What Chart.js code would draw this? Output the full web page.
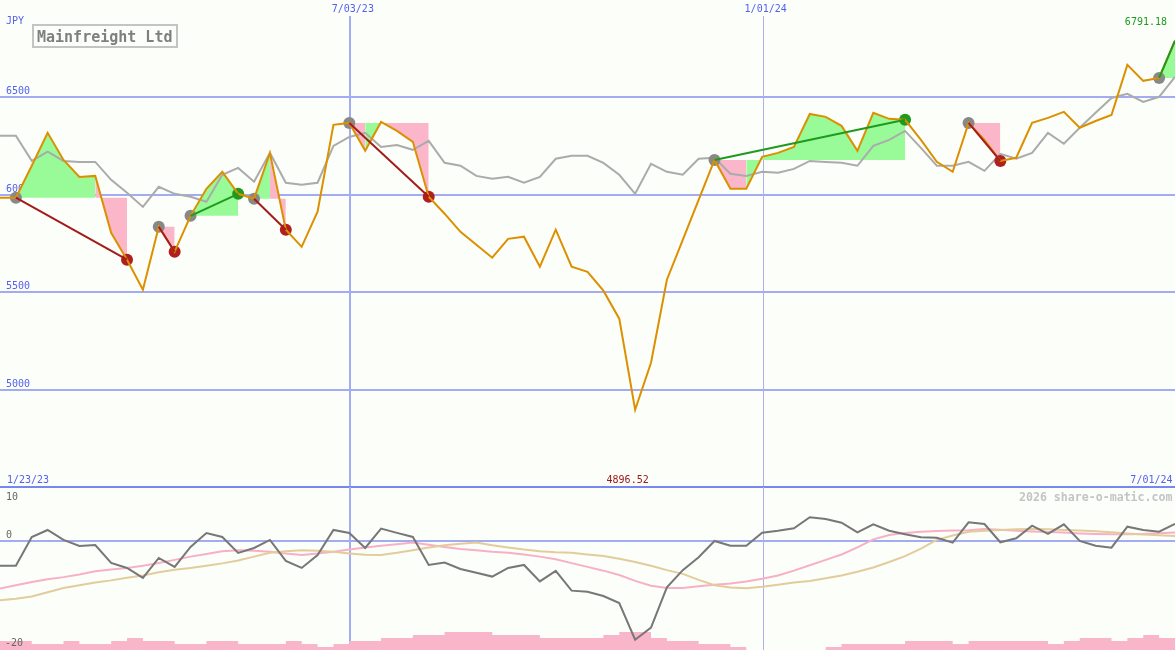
<!DOCTYPE html>
<html>
<head>
<meta charset="utf-8">
<title>Mainfreight Ltd</title>
<script src="https://cdn.jsdelivr.net/npm/chart.js@4.4.1/dist/chart.umd.min.js"></script>
<style>
  html, body { margin:0; padding:0; background:#fcfefa; overflow:hidden; }
  #wrap { width:1175px; height:650px; }
  canvas { display:block; }
</style>
</head>
<body>
<div id="wrap">
  <canvas id="priceChart" width="1175" height="487"></canvas>
  <canvas id="oscChart" width="1175" height="163"></canvas>
</div>
<script>
// ---------------- data (weekly points, index 0..74) ----------------
const title = 'Mainfreight Ltd';
const currency = 'JPY';
const watermark = '2026 share-o-matic.com';

const dateLabels = ['1/23/23', '7/03/23', '1/01/24', '7/01/24'];
const dateIndex  = [0, 22, 48, 74];

const priceTicks = [5000, 5500, 6000, 6500];
const oscTicks   = [10, 0, -20];

const price = [
  5985, 5985, 6149, 6318, 6179, 6092, 6097, 5805, 5667, 5513,
  5836, 5708, 5892, 6031, 6118, 6005, 5980, 6215, 5821, 5733,
  5913, 6359, 6369, 6226, 6374, 6328, 6272, 5990, 5903, 5810,
  5744, 5677, 5774, 5785, 5631, 5821, 5631, 5605, 5508, 5364,
  4896.52, 5138, 5564, 5769, 5974, 6179, 6031, 6031, 6195, 6215,
  6246, 6415, 6400, 6354, 6226, 6421, 6390, 6385, 6282, 6169,
  6118, 6369, 6282, 6174, 6190, 6369, 6395, 6426, 6344, 6379,
  6410, 6667, 6585, 6600, 6791.18
];

const average = [
  6303, 6303, 6174, 6221, 6174, 6169, 6169, 6077, 6010, 5938,
  6041, 6005, 5990, 5964, 6103, 6138, 6067, 6215, 6062, 6051,
  6062, 6251, 6297, 6318, 6246, 6256, 6231, 6277, 6164, 6149,
  6097, 6082, 6092, 6062, 6092, 6185, 6200, 6200, 6164, 6103,
  6005, 6159, 6118, 6103, 6185, 6190, 6108, 6097, 6118, 6113,
  6133, 6174, 6169, 6164, 6149, 6251, 6282, 6328, 6241, 6149,
  6149, 6169, 6123, 6210, 6185, 6215, 6318, 6262, 6344, 6421,
  6497, 6518, 6477, 6503, 6605
];

const tradeEntry  = [1, 10, 12, 16, 22, 45, 61, 73];
const tradeExit   = [8, 11, 15, 18, 27, 57, 63, 74];
const tradeClosed = [true, true, true, true, true, true, true, false];

const momentum = [
  -4.57, -4.57, 0.74, 2.04, 0.19, -0.93, -0.74, -4.07, -5.0, -6.85,
  -3.15, -4.8, -1.1, 1.48, 0.74, -2.2, -1.3, 0.19, -3.7, -5.0,
  -2.6, 2.04, 1.48, -1.3, 2.3, 1.5, 0.74, -4.44, -4.0, -5.2,
  -5.9, -6.6, -5.0, -4.44, -7.5, -5.55, -9.2, -9.4, -10.2, -11.5,
  -18.3, -16.05, -8.6, -5.4, -3.0, 0.0, -0.87, -0.87, 1.54, 1.9,
  2.35, 4.39, 4.07, 3.39, 1.61, 3.09, 1.9, 1.24, 0.69, 0.61,
  -0.31, 3.46, 3.15, -0.24, 0.5, 2.83, 1.3, 3.09, 0.0, -0.87,
  -1.24, 2.65, 2.04, 1.72, 3.15
];

const signalFast = [
  -8.8, -8.2, -7.6, -7.1, -6.7, -6.2, -5.6, -5.3, -5.0, -4.6,
  -4.1, -3.5, -2.9, -2.4, -1.9, -1.7, -1.8, -2.0, -2.3, -2.6,
  -2.3, -2.0, -1.6, -1.2, -0.9, -0.6, -0.3, -0.7, -1.1, -1.5,
  -1.7, -2.0, -2.2, -2.5, -2.9, -3.4, -4.1, -4.8, -5.5, -6.3,
  -7.4, -8.3, -8.7, -8.7, -8.4, -8.1, -7.9, -7.5, -7.0, -6.4,
  -5.5, -4.5, -3.5, -2.5, -1.2, 0.3, 1.1, 1.5, 1.7, 1.85,
  1.95, 2.0, 2.2, 2.1, 1.9, 1.75, 1.65, 1.55, 1.4, 1.3,
  1.25, 1.25, 1.3, 1.45, 1.55
];

const signalSlow = [
  -11.0, -10.7, -10.3, -9.5, -8.7, -8.2, -7.7, -7.3, -6.8, -6.4,
  -5.8, -5.35, -5.0, -4.6, -4.15, -3.6, -2.9, -2.2, -1.9, -1.7,
  -1.8, -2.0, -2.3, -2.55, -2.6, -2.2, -1.7, -1.2, -0.8, -0.5,
  -0.3, -0.8, -1.2, -1.6, -1.9, -2.1, -2.2, -2.5, -2.8, -3.3,
  -3.9, -4.6, -5.4, -6.1, -7.2, -8.2, -8.6, -8.75, -8.5, -8.1,
  -7.7, -7.4, -6.9, -6.4, -5.7, -4.9, -3.9, -2.8, -1.4, 0.2,
  1.0, 1.7, 1.9, 2.05, 2.15, 2.2, 2.15, 2.05, 1.95, 1.8,
  1.6, 1.4, 1.2, 1.05, 0.9
];

const volume = [
  3, 3, 2, 2, 3, 2, 2, 3, 4, 3,
  3, 2, 2, 3, 3, 2, 2, 2, 3, 2,
  1, 2, 3, 3, 4, 4, 5, 5, 6, 6,
  6, 5, 5, 5, 4, 4, 4, 4, 5, 6,
  6, 4, 3, 3, 2, 2, 1, 0, 0, 0,
  0, 0, 1, 2, 2, 2, 2, 3, 3, 3,
  2, 3, 3, 3, 3, 3, 2, 3, 4, 4,
  3, 4, 5, 4, 4
];

// ---------------- styling ----------------
const COL = {
  grid: '#a3acf3', sep: '#7886f0', thinV: '#aab1ec', blue: '#5461ee',
  orange: '#dc9000', avg: '#ababab', up: '#98fb98', down: '#fbb6c9',
  loss: '#a31c1c', lossDot: '#b01f1f', win: '#1f9a1f', entryDot: '#888888',
  mom: '#777777', fast: '#f7b0c6', slow: '#e3cc9c', vol: '#f9b5c9',
  minTxt: '#a01818', maxTxt: '#1f9a1f', oscTxt: '#666666', mark: '#c4c4c4'
};
const FONT = '10px "DejaVu Sans Mono"';
const markerStyle = [null, {w: 2, c: COL.grid, round: Math.round}, {w: 1, c: COL.thinV, round: Math.ceil}, null];

const pts = arr => arr.map((v, i) => ({x: i, y: v}));

function drawMarkers(ctx, xs, y0, y1) {
  dateIndex.forEach((idx, k) => {
    const st = markerStyle[k];
    if (!st) return;
    ctx.fillStyle = st.c;
    ctx.fillRect(st.round(xs.getPixelForValue(idx)), y0, st.w, y1 - y0);
  });
}

// ---------------- price chart ----------------
const priceDatasets = [];

// trade fills (between price and entry level)
tradeEntry.forEach((e, t) => {
  const x = tradeExit[t];
  const base = price[e];
  const seg = [];
  for (let i = e; i <= x; i++) seg.push({x: i, y: price[i]});
  priceDatasets.push({
    data: seg, order: 6,
    borderColor: 'rgba(0,0,0,0)', borderWidth: 0, pointRadius: 0,
    backgroundColor: COL.up,
    fill: {value: base},
    segment: { backgroundColor: c => (c.p1.parsed.y >= base ? COL.up : COL.down) }
  });
});

// moving average
priceDatasets.push({data: pts(average), order: 5, borderColor: COL.avg, borderWidth: 2, pointRadius: 0, fill: false});

// signal dots
priceDatasets.push({
  data: tradeEntry.map(i => ({x: i, y: price[i]})), order: 4, showLine: false,
  pointRadius: 6, pointBackgroundColor: COL.entryDot, pointBorderWidth: 0, borderColor: COL.entryDot
});
const exitPts = tradeExit.map((i, t) => ({x: i, y: price[i], t})).filter(p => tradeClosed[p.t]);
priceDatasets.push({
  data: exitPts.map(p => ({x: p.x, y: p.y})), order: 4, showLine: false,
  pointRadius: 6, pointBorderWidth: 0,
  pointBackgroundColor: exitPts.map(p => (p.y >= price[tradeEntry[p.t]] ? COL.win : COL.lossDot)),
  borderColor: 'rgba(0,0,0,0)'
});

// price line
priceDatasets.push({data: pts(price), order: 3, borderColor: COL.orange, borderWidth: 2, pointRadius: 0, fill: false});

// trade connectors
tradeEntry.forEach((e, t) => {
  const x = tradeExit[t];
  const win = price[x] >= price[e];
  priceDatasets.push({
    data: [{x: e, y: price[e]}, {x: x, y: price[x]}], order: 1,
    borderColor: win ? COL.win : COL.loss, borderWidth: 2, pointRadius: 0, fill: false
  });
});

const priceDecor = {
  id: 'priceDecor',
  beforeDatasetsDraw(chart) {
    const {ctx, width, height} = chart;
    const xs = chart.scales.x, ys = chart.scales.y;
    ctx.save();
    ctx.fillStyle = COL.grid;
    priceTicks.forEach(t => ctx.fillRect(0, Math.round(ys.getPixelForValue(t)) - 1, width, 2));
    drawMarkers(ctx, xs, 16, height);
    ctx.fillStyle = COL.sep;
    ctx.fillRect(0, height - 1, width, 1);

    ctx.font = FONT;
    ctx.fillStyle = COL.blue;
    ctx.textBaseline = 'alphabetic';
    ctx.textAlign = 'left';
    priceTicks.forEach(t => ctx.fillText(String(t), 6, Math.round(ys.getPixelForValue(t)) - 3));
    ctx.fillText(currency, 6, 24);
    ctx.textAlign = 'center';
    for (let k = 1; k < dateLabels.length - 1; k++) {
      ctx.fillText(dateLabels[k], xs.getPixelForValue(dateIndex[k]) + 3.5, 12);
    }
    ctx.textAlign = 'left';
    ctx.fillText(dateLabels[0], 7, 483);
    ctx.textAlign = 'right';
    ctx.fillText(dateLabels[dateLabels.length - 1], width - 2.5, 483);

    ctx.strokeStyle = '#c4c4c4';
    ctx.lineWidth = 2;
    ctx.strokeRect(33, 25, 144, 22);
    ctx.font = 'bold 15px "DejaVu Sans Mono"';
    ctx.fillStyle = '#7f7f7f';
    ctx.textAlign = 'left';
    ctx.fillText(title, 37, 42);
    ctx.restore();
  },
  afterDatasetsDraw(chart) {
    const {ctx, width} = chart;
    const xs = chart.scales.x;
    let lo = 0, hi = 0;
    price.forEach((v, i) => { if (v < price[lo]) lo = i; if (v > price[hi]) hi = i; });
    ctx.save();
    ctx.font = FONT;
    ctx.textBaseline = 'alphabetic';
    ctx.fillStyle = COL.minTxt;
    ctx.textAlign = 'center';
    ctx.fillText(price[lo].toFixed(2), xs.getPixelForValue(lo) - 7.5, 483);
    ctx.fillStyle = COL.maxTxt;
    ctx.textAlign = 'right';
    ctx.fillText(price[hi].toFixed(2), width - 8, 25);
    ctx.restore();
  }
};

new Chart(document.getElementById('priceChart'), {
  type: 'line',
  data: {datasets: priceDatasets},
  options: {
    responsive: false, animation: false, devicePixelRatio: 1, events: [],
    layout: {padding: 0, autoPadding: false},
    plugins: {legend: {display: false}, tooltip: {enabled: false}},
    scales: {
      x: {type: 'linear', min: 0, max: 74, display: false},
      y: {type: 'linear', min: 4500, max: 7000, display: false}
    }
  },
  plugins: [priceDecor]
});

// ---------------- oscillator chart ----------------
const oscDecor = {
  id: 'oscDecor',
  beforeDatasetsDraw(chart) {
    const {ctx, width, height} = chart;
    const xs = chart.scales.x, ys = chart.scales.y;
    ctx.save();
    ctx.fillStyle = COL.sep;
    ctx.fillRect(0, 0, width, 1);
    ctx.fillStyle = COL.grid;
    oscTicks.forEach(t => {
      const py = Math.round(ys.getPixelForValue(t));
      if (py > 3 && py < height - 3) ctx.fillRect(0, py - 1, width, 2);
    });
    drawMarkers(ctx, xs, 0, height);
    ctx.font = 'bold 11.6px "DejaVu Sans Mono"';
    ctx.fillStyle = COL.mark;
    ctx.textAlign = 'right';
    ctx.textBaseline = 'alphabetic';
    ctx.fillText(watermark, width - 2.5, 14);
    ctx.restore();
  },
  afterDatasetsDraw(chart) {
    const {ctx} = chart;
    const ys = chart.scales.y;
    ctx.save();
    ctx.font = FONT;
    ctx.fillStyle = COL.oscTxt;
    ctx.textAlign = 'left';
    ctx.textBaseline = 'alphabetic';
    oscTicks.forEach(t => ctx.fillText(String(t), t < 0 ? 5 : 6, Math.max(ys.getPixelForValue(t) - 2.5, 12.5)));
    ctx.restore();
  }
};

new Chart(document.getElementById('oscChart'), {
  type: 'line',
  data: {
    datasets: [
      {data: pts(momentum), order: 1, borderColor: COL.mom, borderWidth: 2, pointRadius: 0, fill: false},
      {data: pts(signalSlow), order: 2, borderColor: COL.slow, borderWidth: 2, pointRadius: 0, fill: false},
      {data: pts(signalFast), order: 3, borderColor: COL.fast, borderWidth: 2, pointRadius: 0, fill: false},
      {data: pts(volume), order: 6, yAxisID: 'yv', stepped: true, borderColor: 'rgba(0,0,0,0)', borderWidth: 0,
       pointRadius: 0, backgroundColor: COL.vol, fill: 'origin'}
    ]
  },
  options: {
    responsive: false, animation: false, devicePixelRatio: 1, events: [],
    layout: {padding: 0, autoPadding: false},
    plugins: {legend: {display: false}, tooltip: {enabled: false}},
    scales: {
      x: {type: 'linear', min: 0, max: 74, display: false},
      y: {type: 'linear', min: -20.2, max: 10, display: false},
      yv: {type: 'linear', min: 0, max: 54, display: false}
    }
  },
  plugins: [oscDecor]
});
</script>
</body>
</html>
